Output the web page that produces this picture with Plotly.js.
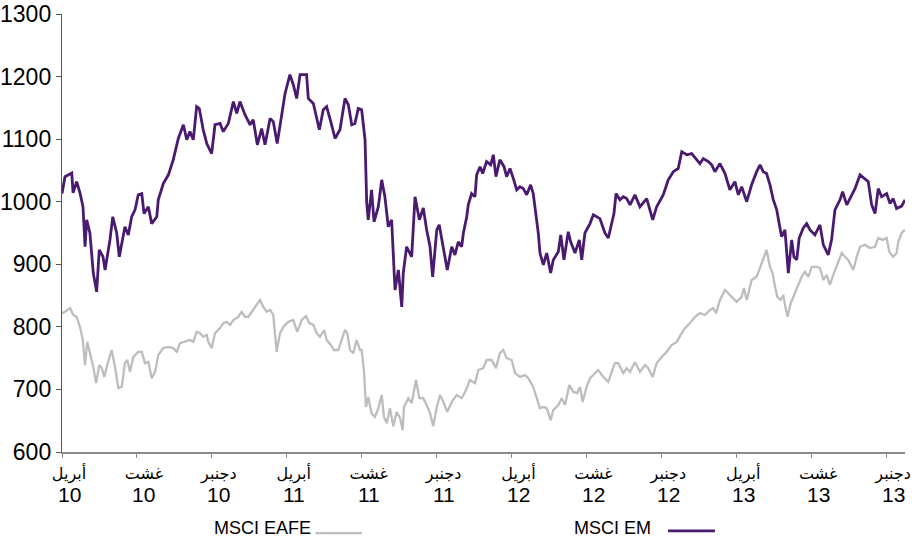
<!DOCTYPE html>
<html>
<head>
<meta charset="utf-8">
<script src="https://cdn.plot.ly/plotly-3.0.1.min.js"></script>
<style>html,body{margin:0;padding:0;background:#fff;}#chart{width:921px;height:542px;}</style>
</head>
<body>
<div id="chart"></div>
<script>
// x = months since April 2010
const emMonths = [0.00,0.16,0.52,0.59,0.78,0.96,1.12,1.23,1.32,1.49,1.67,1.85,1.99,2.19,2.30,2.56,2.71,2.92,3.06,3.19,3.36,3.54,3.72,3.90,4.07,4.26,4.38,4.61,4.79,5.06,5.14,5.41,5.68,5.94,6.21,6.48,6.66,6.83,7.01,7.19,7.33,7.54,7.73,7.99,8.17,8.44,8.61,8.88,9.15,9.33,9.50,9.77,10.04,10.21,10.43,10.66,10.84,11.11,11.28,11.49,11.73,11.91,12.17,12.35,12.53,12.71,13.06,13.15,13.42,13.60,13.74,13.95,14.13,14.35,14.58,14.84,15.11,15.29,15.47,15.64,15.82,
16.00,16.18,16.27,16.35,16.53,16.66,16.89,17.07,17.24,17.42,17.60,17.78,17.96,18.14,18.22,18.40,18.67,18.85,19.08,19.29,19.47,19.65,19.79,20.01,20.14,20.36,20.57,20.81,20.98,21.16,21.34,21.43,21.61,21.69,21.87,22.05,22.14,22.32,22.46,22.67,22.89,23.03,23.17,23.38,23.60,23.74,23.92,24.10,24.28,24.45,24.63,24.81,25.02,25.16,25.31,25.43,25.52,25.70,25.88,26.09,26.23,26.50,26.63,26.80,27.03,27.16,27.39,27.62,27.75,27.92,28.19,28.37,28.72,28.99,29.17,29.35,29.47,29.58,29.79,29.97,30.15,30.33,30.59,30.86,31.22,31.54,31.75,
32.10,32.37,32.64,32.90,33.09,33.35,33.62,33.89,34.06,34.24,34.51,34.69,34.86,35.13,35.40,35.66,35.93,36.11,36.29,36.56,36.82,37.09,37.27,37.44,37.62,37.80,37.98,38.16,38.33,38.42,38.60,38.78,38.96,39.08,39.23,39.36,39.58,39.76,39.94,40.20,40.47,40.65,40.91,41.09,41.27,41.54,41.68,41.90,42.07,42.34,42.61,42.87,43.05,43.23,43.41,43.58,43.76,44.03,44.21,44.38,44.56,44.83,45.01];
const emValues = [1013,1040,1046,1014,1032,1014,992,928,971,950,886,856,923,912,891,939,976,950,912,931,960,947,976,987,1011,1013,981,992,965,976,1003,1029,1043,1067,1101,1123,1099,1112,1099,1152,1149,1115,1093,1077,1123,1125,1112,1125,1160,1141,1160,1139,1123,1131,1091,1117,1091,1133,1128,1093,1141,1173,1203,1187,1165,1203,1203,1165,1157,1133,1115,1147,1152,1128,1101,1115,1165,1155,1123,1125,1149,
1147,1099,998,971,1019,968,992,1035,1008,960,971,859,891,832,886,928,912,1008,971,990,955,928,880,955,963,928,891,928,915,936,928,950,976,995,1013,1008,1043,1056,1045,1064,1059,1075,1040,1067,1056,1040,1053,1037,1019,1024,1021,1011,1027,1013,981,950,918,899,918,886,907,920,947,907,952,936,918,939,907,950,965,979,973,950,942,968,981,1013,1003,1008,1005,995,1011,992,1005,971,992,
1011,1035,1048,1053,1080,1075,1077,1067,1061,1069,1064,1059,1048,1061,1045,1019,1032,1011,1024,1000,1027,1048,1059,1048,1045,1027,1003,987,955,944,955,886,939,912,907,942,958,965,955,947,963,931,915,939,987,1003,1016,995,1005,1021,1043,1037,1032,995,981,1021,1008,1013,997,1005,989,993,1003];

const eafeMonths = [0.00,0.16,0.43,0.60,0.78,0.96,1.11,1.23,1.35,1.49,1.67,1.82,1.99,2.12,2.26,2.39,2.65,2.83,3.01,3.19,3.36,3.49,3.63,3.81,4.07,4.26,4.43,4.61,4.79,4.97,5.14,5.41,5.68,5.94,6.12,6.30,6.57,6.83,7.01,7.19,7.37,7.54,7.73,7.81,7.99,8.17,8.44,8.61,8.79,8.97,9.15,9.41,9.59,9.77,9.95,10.13,10.40,10.57,10.75,10.93,11.11,11.28,11.46,11.64,11.82,12.08,12.35,12.56,12.80,13.03,13.20,13.42,13.60,13.77,14.00,14.13,14.35,14.52,14.75,14.93,15.11,15.23,15.38,15.55,15.73,15.91,
16.00,16.12,16.23,16.35,16.53,16.71,16.89,17.07,17.19,17.34,17.51,17.69,17.87,18.05,18.19,18.26,18.49,18.67,18.90,19.08,19.29,19.47,19.65,19.82,20.01,20.18,20.36,20.57,20.81,21.07,21.34,21.57,21.78,22.05,22.23,22.49,22.67,22.94,23.17,23.38,23.56,23.74,24.01,24.19,24.45,24.72,24.90,25.16,25.34,25.52,25.70,25.88,26.09,26.23,26.50,26.68,26.86,27.09,27.30,27.51,27.66,27.80,28.01,28.19,28.37,28.63,28.90,29.17,29.35,29.52,29.70,29.97,30.15,30.33,30.59,30.86,
31.13,31.30,31.54,31.75,32.02,32.28,32.55,32.82,33.09,33.26,33.53,33.80,34.06,34.33,34.60,34.77,34.92,35.13,35.40,35.66,36.02,36.29,36.41,36.56,36.82,37.09,37.27,37.48,37.62,37.80,37.94,38.07,38.19,38.37,38.51,38.62,38.74,38.91,39.08,39.26,39.49,39.67,39.85,40.03,40.29,40.47,40.65,40.83,41.00,41.18,41.36,41.63,41.80,41.98,42.25,42.43,42.61,42.87,43.14,43.41,43.58,43.82,44.03,44.17,44.38,44.56,44.65,44.83,45.01];
const eafeValues = [822,824,830,819,816,800,779,739,776,758,736,710,739,734,720,736,763,736,702,704,742,747,728,752,760,760,742,744,718,728,755,766,768,766,760,774,776,779,776,792,790,784,787,776,766,790,798,806,808,803,811,816,824,816,816,824,835,843,832,824,827,819,760,790,800,808,811,792,811,817,806,803,790,784,795,779,771,763,763,779,795,790,763,758,779,763,
763,731,672,688,662,656,670,691,656,646,670,641,664,654,635,672,686,678,715,686,686,675,662,641,672,691,680,664,680,691,686,699,715,710,731,734,747,747,734,758,763,750,747,726,720,723,718,704,688,670,672,670,651,667,675,686,675,707,696,694,704,680,704,718,723,731,720,712,728,742,742,726,734,728,744,728,
739,734,720,742,752,760,771,776,790,798,806,816,822,819,827,830,822,843,859,851,840,848,862,843,875,880,894,910,923,896,886,864,848,843,851,832,816,838,851,864,880,888,880,896,896,894,875,883,867,883,896,918,912,907,891,912,928,931,926,928,942,939,942,920,912,918,936,950,955];

const tickPositions = [0,4,8,12,16,20,24,28,32,36,40,44];
const tickMonthLabels = ['أبريل','غشت','دجنبر','أبريل','غشت','دجنبر','أبريل','غشت','دجنبر','أبريل','غشت','دجنبر'];
const tickYearLabels = ['10','10','10','11','11','11','12','12','12','13','13','13'];
const seriesNames = ['MSCI EAFE','MSCI EM'];
const yTicks = [600,700,800,900,1000,1100,1200,1300];

const NUMFONT = 'Liberation Sans, Arial, sans-serif';
const ARFONT = 'DejaVu Sans, sans-serif';
const EM_COLOR = '#4a1a70';
const EAFE_COLOR = '#bdbdbd';

const traces = [
  {x: eafeMonths, y: eafeValues, name: seriesNames[0], type: 'scatter', mode: 'lines',
   line: {color: EAFE_COLOR, width: 2.3}, showlegend: false},
  {x: emMonths, y: emValues, name: seriesNames[1], type: 'scatter', mode: 'lines',
   line: {color: EM_COLOR, width: 2.8}, showlegend: false}
];

const annotations = tickPositions.map((p, i) => ({
  xref: 'x', yref: 'paper', x: p, y: -0.0965, xanchor: 'center', yanchor: 'middle', xshift: 7,
  text: tickYearLabels[i], showarrow: false, font: {family: NUMFONT, size: 21, color: '#000'}
}));
annotations.push(
  {xref: 'paper', yref: 'paper', x: 0.2978, y: -0.1735, xanchor: 'right', yanchor: 'middle',
   text: seriesNames[0], showarrow: false, font: {family: NUMFONT, size: 18, color: '#000'}},
  {xref: 'paper', yref: 'paper', x: 0.7011, y: -0.1735, xanchor: 'right', yanchor: 'middle',
   text: seriesNames[1], showarrow: false, font: {family: NUMFONT, size: 18, color: '#000'}}
);

const layout = {
  width: 921, height: 542,
  margin: {l: 62, r: 16, t: 14, b: 90},
  paper_bgcolor: '#fff', plot_bgcolor: '#fff',
  font: {family: NUMFONT, color: '#000', size: 20},
  xaxis: {
    range: [0, 45.01], showgrid: false, zeroline: false,
    showline: true, linecolor: '#8a8a8a', linewidth: 1.5,
    ticks: 'outside', ticklen: 4, tickcolor: '#8a8a8a',
    tickmode: 'array', tickvals: tickPositions, ticktext: tickMonthLabels,
    ticklabelshift: 7, ticklabelstandoff: 2,
    tickfont: {family: ARFONT, size: 16, color: '#000'}
  },
  yaxis: {
    range: [600, 1300], showgrid: false, zeroline: false,
    showline: true, linecolor: '#555', linewidth: 1.2,
    ticks: 'outside', ticklen: 5, tickcolor: '#555',
    tickmode: 'array', tickvals: yTicks,
    tickfont: {family: NUMFONT, size: 23, color: '#000'}
  },
  annotations: annotations,
  shapes: [
    {type: 'line', xref: 'paper', yref: 'paper', x0: 0.3008, x1: 0.3559, y0: -0.185, y1: -0.185,
     line: {color: EAFE_COLOR, width: 2.3}},
    {type: 'line', xref: 'paper', yref: 'paper', x0: 0.7189, x1: 0.7746, y0: -0.180, y1: -0.180,
     line: {color: EM_COLOR, width: 2.8}}
  ]
};

Plotly.newPlot('chart', traces, layout, {displayModeBar: false, staticPlot: true});
</script>
</body>
</html>
